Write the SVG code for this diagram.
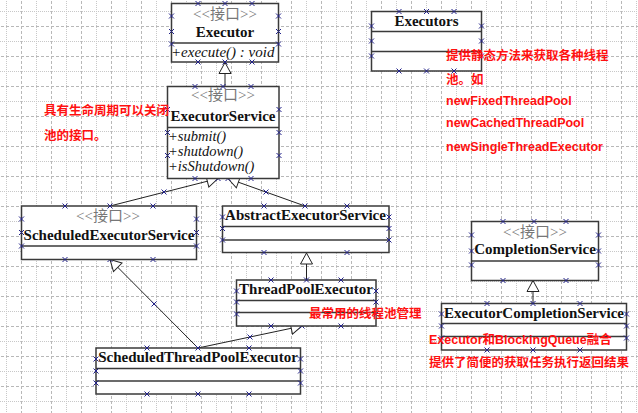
<svg xmlns="http://www.w3.org/2000/svg" xmlns:xlink="http://www.w3.org/1999/xlink" width="638" height="413" viewBox="0 0 638 413">
<style>
.box{fill:#fff;stroke:#3a3a3a;stroke-width:1.5}
.sep{stroke:#3a3a3a;stroke-width:1.5}
.ster{font-family:"Liberation Serif","Noto Sans CJK SC",serif;font-size:15px;fill:#777;text-anchor:middle}
.name{font-family:"Liberation Serif",serif;font-size:15px;font-weight:bold;fill:#111;text-anchor:middle}
.op{font-family:"Liberation Serif",serif;font-size:14.5px;font-style:italic;fill:#111}
.note{font-family:"Liberation Sans","Noto Sans CJK SC",sans-serif;font-size:12.5px;font-weight:bold;fill:#ff1010}
.conn{stroke:#222;stroke-width:1;fill:none;marker-end:url(#tri)}
.xm{stroke:#22228a;stroke-width:1;fill:none}
</style>
<defs>
<pattern id="grid" patternUnits="userSpaceOnUse" x="6" y="11" width="30" height="30">
<line x1="0.5" y1="0" x2="0.5" y2="30" stroke="#c8c8c8" stroke-width="1" stroke-dasharray="1,1"/>
<line x1="0" y1="0.5" x2="30" y2="0.5" stroke="#c8c8c8" stroke-width="1" stroke-dasharray="1,1"/>
<line x1="15.5" y1="0" x2="15.5" y2="30" stroke="#b8b8b8" stroke-width="1" stroke-dasharray="3,2"/>
<line x1="0" y1="15.5" x2="30" y2="15.5" stroke="#b8b8b8" stroke-width="1" stroke-dasharray="3,2"/>
</pattern>
<marker id="tri" markerUnits="userSpaceOnUse" markerWidth="14" markerHeight="14" viewBox="-12 -7 14 14" refX="0" refY="0" orient="auto">
<path d="M0,0 L-11,-6 L-11,6 Z" fill="#fff" stroke="#222" stroke-width="1"/>
</marker>
<path id="x" class="xm" d="M-2.5,-2.5 L2.5,2.5 M-2.5,2.5 L2.5,-2.5"/>
</defs>
<rect width="638" height="413" fill="#fff"/>
<rect width="638" height="413" fill="url(#grid)"/>

<g id="connectors">
<line class="conn" x1="225" y1="86.5" x2="225" y2="62.5"/>
<line class="conn" x1="110" y1="206" x2="218" y2="178.5"/>
<line class="conn" x1="305" y1="206" x2="228" y2="178.5"/>
<line class="conn" x1="306.5" y1="280" x2="306.5" y2="253"/>
<line class="conn" x1="198" y1="348" x2="110" y2="259.5"/>
<line class="conn" x1="198" y1="348" x2="302" y2="326"/>
<line class="conn" x1="533" y1="303.5" x2="533" y2="280.5"/>
<use href="#x" x="164" y="192"/>
<use href="#x" x="266" y="192"/>
<use href="#x" x="154" y="304"/>
<use href="#x" x="250" y="337"/>
<use href="#x" x="218" y="178.5"/>
<use href="#x" x="228" y="178.5"/>
<use href="#x" x="110" y="259.5"/>
<use href="#x" x="302" y="326"/>
</g>

<g id="Executor">
<rect class="box" x="171.5" y="3.5" width="107" height="58.5"/>
<line class="sep" x1="171.5" y1="43" x2="278.5" y2="43"/>
<text class="ster" x="225" y="19">&lt;&lt;接口&gt;&gt;</text>
<text class="name" x="225" y="37">Executor</text>
<text class="op" x="171" y="57" style="font-size:15px">+execute() : void</text>
<use href="#x" x="198" y="3.5"/><use href="#x" x="225" y="3.5"/><use href="#x" x="252" y="3.5"/>
<use href="#x" x="198" y="62"/><use href="#x" x="225" y="62"/><use href="#x" x="252" y="62"/>
<use href="#x" x="171.5" y="16"/><use href="#x" x="171.5" y="31.5"/><use href="#x" x="171.5" y="44"/>
<use href="#x" x="278.5" y="16"/><use href="#x" x="278.5" y="31.5"/><use href="#x" x="278.5" y="44"/>
</g>

<g id="ExecutorService">
<rect class="box" x="167.5" y="86.5" width="111.5" height="92"/>
<line class="sep" x1="167.5" y1="127.5" x2="279" y2="127.5"/>
<text class="ster" x="223" y="100">&lt;&lt;接口&gt;&gt;</text>
<text class="name" x="223" y="121">ExecutorService</text>
<text class="op" x="168" y="141">+submit()</text>
<text class="op" x="168" y="156">+shutdown()</text>
<text class="op" x="168" y="171">+isShutdown()</text>
<use href="#x" x="195" y="86.5"/><use href="#x" x="223" y="86.5"/><use href="#x" x="251" y="86.5"/>
<use href="#x" x="195" y="178.5"/><use href="#x" x="251" y="178.5"/>
<use href="#x" x="167.5" y="109.5"/><use href="#x" x="167.5" y="132.5"/><use href="#x" x="167.5" y="155.5"/>
<use href="#x" x="279" y="109.5"/><use href="#x" x="279" y="132.5"/><use href="#x" x="279" y="155.5"/>
</g>

<g id="Executors">
<rect class="box" x="371.5" y="11.5" width="110" height="59.5"/>
<line class="sep" x1="371.5" y1="31.5" x2="481.5" y2="31.5"/>
<line class="sep" x1="371.5" y1="51.5" x2="481.5" y2="51.5"/>
<text class="name" x="426.5" y="26">Executors</text>
<use href="#x" x="399" y="11.5"/><use href="#x" x="426.5" y="11.5"/><use href="#x" x="454" y="11.5"/>
<use href="#x" x="399" y="71"/><use href="#x" x="426.5" y="71"/><use href="#x" x="454" y="71"/>
<use href="#x" x="371.5" y="26"/><use href="#x" x="371.5" y="41"/><use href="#x" x="371.5" y="56"/>
<use href="#x" x="481.5" y="26"/><use href="#x" x="481.5" y="41"/><use href="#x" x="481.5" y="56"/>
</g>

<g id="ScheduledExecutorService">
<rect class="box" x="21.5" y="206" width="175" height="53.5"/>
<line class="sep" x1="21.5" y1="246" x2="196.5" y2="246"/>
<text class="ster" x="108" y="221">&lt;&lt;接口&gt;&gt;</text>
<text class="name" x="109" y="240">ScheduledExecutorService</text>
<use href="#x" x="65" y="206"/><use href="#x" x="110" y="206"/><use href="#x" x="153" y="206"/>
<use href="#x" x="65" y="259.5"/><use href="#x" x="153" y="259.5"/>
<use href="#x" x="21.5" y="219"/><use href="#x" x="21.5" y="232.5"/><use href="#x" x="21.5" y="246"/>
<use href="#x" x="196.5" y="219"/><use href="#x" x="196.5" y="232.5"/><use href="#x" x="196.5" y="246"/>
</g>

<g id="AbstractExecutorService">
<rect class="box" x="222.5" y="206" width="166.5" height="46.5"/>
<line class="sep" x1="222.5" y1="226.5" x2="389" y2="226.5"/>
<line class="sep" x1="222.5" y1="240" x2="389" y2="240"/>
<text class="name" x="305.5" y="220">AbstractExecutorService</text>
<use href="#x" x="264" y="206"/><use href="#x" x="305" y="206"/><use href="#x" x="347" y="206"/>
<use href="#x" x="264" y="252.5"/><use href="#x" x="347" y="252.5"/>
<use href="#x" x="222.5" y="217"/><use href="#x" x="222.5" y="228.5"/><use href="#x" x="222.5" y="240"/>
<use href="#x" x="389" y="217"/><use href="#x" x="389" y="228.5"/><use href="#x" x="389" y="240"/>
</g>

<g id="ThreadPoolExecutor">
<rect class="box" x="236.5" y="280" width="139.5" height="46"/>
<line class="sep" x1="236.5" y1="300.5" x2="376" y2="300.5"/>
<line class="sep" x1="236.5" y1="312.5" x2="376" y2="312.5"/>
<text class="name" x="306" y="294">ThreadPoolExecutor</text>
<use href="#x" x="271" y="280"/><use href="#x" x="306.5" y="280"/><use href="#x" x="341" y="280"/>
<use href="#x" x="271" y="326"/><use href="#x" x="341" y="326"/>
<use href="#x" x="236.5" y="291"/><use href="#x" x="236.5" y="302"/><use href="#x" x="236.5" y="314"/>
<use href="#x" x="376" y="291"/><use href="#x" x="376" y="302"/><use href="#x" x="376" y="314"/>
</g>

<g id="ScheduledThreadPoolExecutor">
<rect class="box" x="96" y="348" width="204.5" height="46"/>
<line class="sep" x1="96" y1="368.5" x2="300.5" y2="368.5"/>
<line class="sep" x1="96" y1="381" x2="300.5" y2="381"/>
<text class="name" x="198" y="362">ScheduledThreadPoolExecutor</text>
<use href="#x" x="147" y="348"/><use href="#x" x="198" y="348"/><use href="#x" x="249" y="348"/>
<use href="#x" x="147" y="394"/><use href="#x" x="198" y="394"/><use href="#x" x="249" y="394"/>
<use href="#x" x="96" y="359"/><use href="#x" x="96" y="371"/><use href="#x" x="96" y="383"/>
<use href="#x" x="300.5" y="359"/><use href="#x" x="300.5" y="371"/><use href="#x" x="300.5" y="383"/>
</g>

<g id="CompletionService">
<rect class="box" x="471.5" y="221.5" width="127" height="59"/>
<line class="sep" x1="471.5" y1="261" x2="598.5" y2="261"/>
<text class="ster" x="535" y="237">&lt;&lt;接口&gt;&gt;</text>
<text class="name" x="535" y="254">CompletionService</text>
<use href="#x" x="503" y="221.5"/><use href="#x" x="534" y="221.5"/><use href="#x" x="566" y="221.5"/>
<use href="#x" x="503" y="280.5"/><use href="#x" x="566" y="280.5"/>
<use href="#x" x="471.5" y="235"/><use href="#x" x="471.5" y="251"/><use href="#x" x="471.5" y="265"/>
<use href="#x" x="598.5" y="235"/><use href="#x" x="598.5" y="251"/><use href="#x" x="598.5" y="265"/>
</g>

<g id="ExecutorCompletionService">
<rect class="box" x="441.5" y="303.5" width="185" height="46.5"/>
<line class="sep" x1="441.5" y1="323.5" x2="626.5" y2="323.5"/>
<line class="sep" x1="441.5" y1="336.5" x2="626.5" y2="336.5"/>
<text class="name" x="534" y="317.5">ExecutorCompletionService</text>
<use href="#x" x="487" y="303.5"/><use href="#x" x="533" y="303.5"/><use href="#x" x="580" y="303.5"/>
<use href="#x" x="487" y="350"/><use href="#x" x="533" y="350"/><use href="#x" x="580" y="350"/>
<use href="#x" x="441.5" y="314"/><use href="#x" x="441.5" y="326"/><use href="#x" x="441.5" y="338"/>
<use href="#x" x="626.5" y="314"/><use href="#x" x="626.5" y="326"/><use href="#x" x="626.5" y="338"/>
</g>

<g id="notes">
<text class="note" x="44" y="114.5">具有生命周期可以关闭</text>
<text class="note" x="44" y="139.5">池的接口。</text>
<text class="note" x="446" y="60">提供静态方法来获取各种线程</text>
<text class="note" x="446" y="83.5">池。如</text>
<text class="note" x="446" y="105">newFixedThreadPool</text>
<text class="note" x="446" y="127">newCachedThreadPool</text>
<text class="note" x="446" y="151">newSingleThreadExecutor</text>
<text class="note" x="309" y="318">最常用的线程池管理</text>
<text class="note" x="429" y="344">Executor和BlockingQueue融合</text>
<text class="note" x="429" y="366.5">提供了简便的获取任务执行返回结果</text>
</g>
</svg>
